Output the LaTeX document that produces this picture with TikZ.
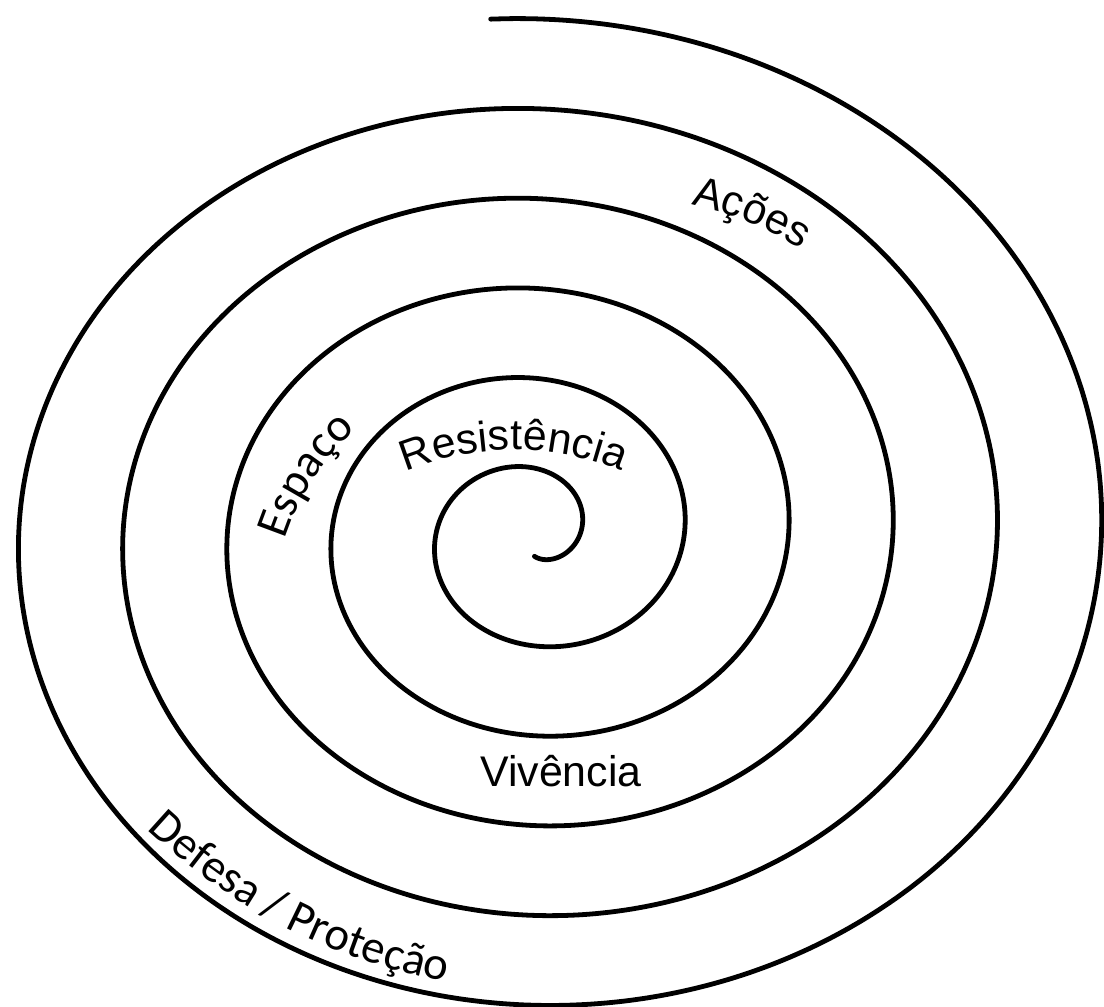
\documentclass[tikz,border=0pt]{standalone}
\usepackage{fontspec}
\newfontfamily\arialFont{Liberation Sans}
\newfontfamily\calibriFont{Carlito}
\usetikzlibrary{decorations.text}
\tikzset{
    % Lines
    spiralLine/.style={line width=0.48mm, black, line cap=round},
    % Labels
    lblArial/.style={font=\arialFont\fontsize{12.2}{14}\selectfont, inner sep=0pt},
    curvedLbl/.style={decorate, decoration={text along path, text align=center, text={#1}}}
}
\newcommand{\arialLbl}{\arialFont\fontsize{12.2}{14}\selectfont}
\newcommand{\calibriLbl}{\calibriFont\fontsize{13.3}{15}\selectfont}

\begin{document}
\begin{tikzpicture}[x=0.1mm, y=0.1mm]
\useasboundingbox (0,0) rectangle (1104,1007);

% Spiral
\draw[spiralLine] plot[domain=-1.55:33.06, samples=900, smooth, variable=\t]
    ({534+(46+16.6*\t)*cos(\t r)}, {472.5+(44+14.3*\t)*sin(\t r)});

% Arc centres for the curved labels
\coordinate (resistC) at (514,274);
\coordinate (acoesC) at (617,460);
\coordinate (espacoC) at (523,391);
\coordinate (defesaC) at (555,609);

% Labels
\path[curvedLbl={|\arialLbl|Resistência}] (resistC) ++(120:283) arc[start angle=120, end angle=60, radius=283];
\path[curvedLbl={|\arialLbl|Ações}] (acoesC) ++(95:350) arc[start angle=95, end angle=41, radius=350];
\path[curvedLbl={|\calibriLbl|Espaço}] (espacoC) ++(170:250) arc[start angle=170, end angle=124, radius=250];
\path[curvedLbl={|\calibriLbl|Defesa / Proteção}] (defesaC) ++(214:594) arc[start angle=214, end angle=272, radius=594];
\node[lblArial, anchor=base] (vivencia) at (561,220) {Vivência};

\end{tikzpicture}
\end{document}
